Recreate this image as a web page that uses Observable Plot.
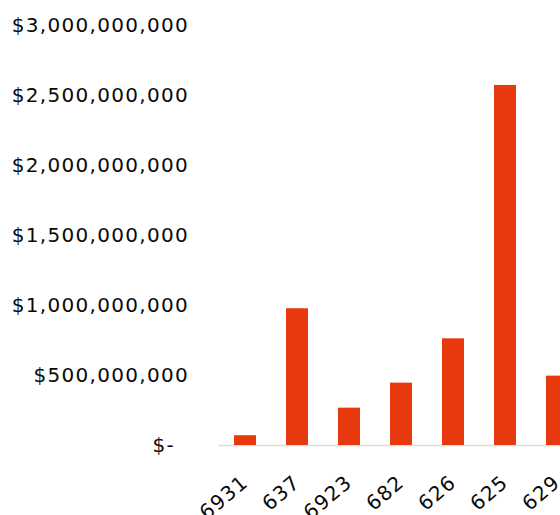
<!DOCTYPE html>
<html><head><meta charset="utf-8">
<script src="https://cdn.jsdelivr.net/npm/d3@7"></script>
<script src="https://cdn.jsdelivr.net/npm/@observablehq/plot@0.6"></script>
<style>
html,body{margin:0;padding:0;overflow:hidden;background:#fff}
#chart svg{max-width:none !important;display:block}
</style>
</head><body><div id="chart"></div>
<script>
const codes = ["6931", "637", "6923", "682", "626", "625", "629"];
const amounts = [70e6, 978e6, 267e6, 446e6, 763e6, 2575e6, 496e6];
const yTicks = [0, 5e8, 1e9, 1.5e9, 2e9, 2.5e9, 3e9];

const data = codes.map((c, i) => ({code: c, amount: amounts[i]}));
const fmt = d => d === 0 ? "$-\u2007" : "$" + d3.format(",")(d);

const chart = Plot.plot({
  width: 583,
  height: 515,
  marginLeft: 218.5,
  marginRight: 0,
  marginTop: 25.5,
  marginBottom: 70,
  style: {fontFamily: "'DejaVu Sans', sans-serif", fontSize: "20px", color: "#0a0a0a", background: "#fff", letterSpacing: "1.3px", maxWidth: "none"},
  x: {domain: codes, paddingInner: 0.57, paddingOuter: 0.285, label: null},
  y: {domain: [0, 3e9], label: null},
  marks: [
    Plot.ruleY([0], {stroke: "#dcdcdc", strokeWidth: 1.5}),
    Plot.barY(data, {x: "code", y: "amount", fill: "#e8380e"}),
    Plot.axisY({ticks: yTicks, tickFormat: fmt, tickSize: 0, tickPadding: 30, label: null}),
    Plot.axisX({tickRotate: -40, tickSize: 0, tickPadding: 34, label: null})
  ]
});
document.getElementById("chart").append(chart);
</script>
</body></html>
